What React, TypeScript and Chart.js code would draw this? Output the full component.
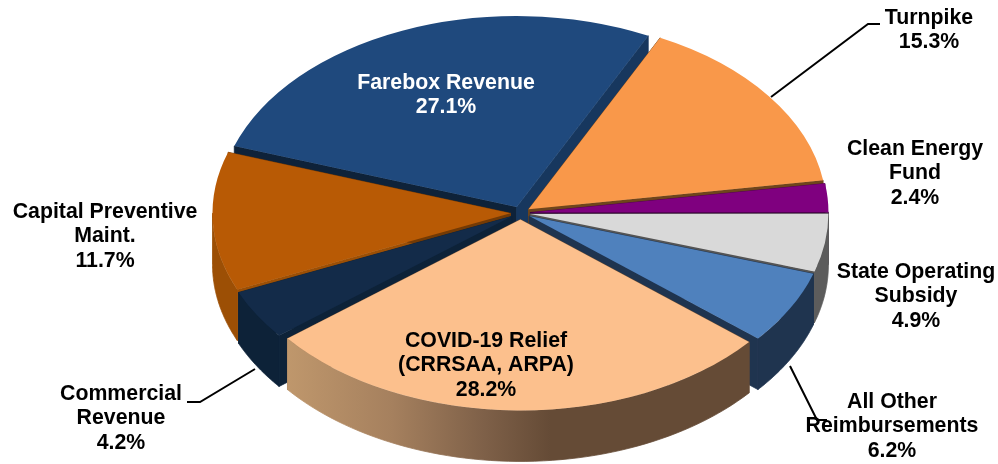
import React, { useEffect, useRef } from "react";
import { Chart, registerables } from "chart.js";

Chart.register(...registerables);

const categories = [
  "Turnpike",
  "Clean Energy Fund",
  "State Operating Subsidy",
  "All Other Reimbursements",
  "COVID-19 Relief (CRRSAA, ARPA)",
  "Commercial Revenue",
  "Capital Preventive Maint.",
  "Farebox Revenue",
];
const shares = [15.3, 2.4, 4.9, 6.2, 28.2, 4.2, 11.7, 27.1];

const topColors = ["#F9984A", "#7F007F", "#D9D9D9", "#4F81BD", "#FCC08D", "#132B49", "#B85A05", "#1F497D"];
const wallColors = ["#7A4A1E", "#4C004C", "#5C5C5C", "#1F344F", "#654B36", "#0D2238", "#9C4F05", "#17375E"];
const startFaceColors = ["#7A4A1E", "#4C004C", "#5C5C5C", "#1F344F", "#654B36", "#0D2238", "#9C4F05", "#0E2239"];
const endFaceColors = ["#6E451C", "#3A003A", "#555555", "#1F344F", "#654B36", "#0D2238", "#733A05", "#17375E"];

const labelLines = [
  ["Turnpike", "15.3%"],
  ["Clean Energy", "Fund", "2.4%"],
  ["State Operating", "Subsidy", "4.9%"],
  ["All Other", "Reimbursements", "6.2%"],
  ["COVID-19 Relief", "(CRRSAA, ARPA)", "28.2%"],
  ["Commercial", "Revenue", "4.2%"],
  ["Capital Preventive", "Maint.", "11.7%"],
  ["Farebox Revenue", "27.1%"],
];
const labelAnchors = [
  [929, 18],
  [915, 149],
  [916, 272],
  [892, 402],
  [486, 341],
  [121, 394],
  [105, 212],
  [446, 83],
];
const labelColors = ["#000", "#000", "#000", "#000", "#000", "#000", "#000", "#fff"];
const leaders = [
  [[771, 97], [868, 24], [880, 24]],
  [[255, 369], [200, 402], [187, 402]],
  [[790, 366], [817, 420], [827, 420]],
];

const SQUASH = 0.641;
const DEPTH = 51;
const EXPLODE = 10;
const LINE_HEIGHT = 24.5;
const FONT = 'bold 21.3px "Liberation Sans", Arial, sans-serif';

const explodeOf = (arc: any) => {
  const mid = (arc.startAngle + arc.endAngle) / 2;
  return [EXPLODE * Math.cos(mid), EXPLODE * SQUASH * Math.sin(mid)];
};

function drawWalls(chart: any) {
  const ctx = chart.ctx as CanvasRenderingContext2D;
  const arcs = chart.getDatasetMeta(0).data as any[];
  const order = arcs
    .map((arc, i) => ({ arc, i, y: Math.sin((arc.startAngle + arc.endAngle) / 2) }))
    .sort((a, b) => a.y - b.y);

  ctx.save();
  ctx.lineWidth = 0.8;
  ctx.lineJoin = "round";
  for (const { arc, i } of order) {
    const [dx, dy] = explodeOf(arc);
    const cx = arc.x + dx;
    const cy = arc.y + dy;
    const r = arc.outerRadius;
    const pt = (t: number) => [cx + r * Math.cos(t), cy + r * SQUASH * Math.sin(t)];

    const face = (t: number, color: string) => {
      const p = pt(t);
      ctx.fillStyle = color;
      ctx.strokeStyle = color;
      ctx.beginPath();
      ctx.moveTo(cx, cy);
      ctx.lineTo(p[0], p[1]);
      ctx.lineTo(p[0], p[1] + DEPTH);
      ctx.lineTo(cx, cy + DEPTH);
      ctx.closePath();
      ctx.fill();
      ctx.stroke();
    };
    face(arc.startAngle, startFaceColors[i]);
    face(arc.endAngle, endFaceColors[i]);

    let wallFill: string | CanvasGradient = wallColors[i];
    if (i === 4) {
      const left = pt(arc.endAngle)[0];
      const g = ctx.createLinearGradient(left, 0, cx + 30, 0);
      g.addColorStop(0, "#BF976C");
      g.addColorStop(0.4, "#A5805E");
      g.addColorStop(0.75, "#7E6048");
      g.addColorStop(1, wallColors[i]);
      wallFill = g;
    }

    for (let n = -1; n <= 1; n++) {
      const a = Math.max(arc.startAngle, n * 2 * Math.PI);
      const b = Math.min(arc.endAngle, n * 2 * Math.PI + Math.PI);
      if (b <= a) continue;
      ctx.fillStyle = wallFill;
      ctx.strokeStyle = wallFill;
      ctx.beginPath();
      const steps = 60;
      for (let s = 0; s <= steps; s++) {
        const p = pt(a + ((b - a) * s) / steps);
        if (s === 0) ctx.moveTo(p[0], p[1]);
        else ctx.lineTo(p[0], p[1]);
      }
      for (let s = steps; s >= 0; s--) {
        const p = pt(a + ((b - a) * s) / steps);
        ctx.lineTo(p[0], p[1] + DEPTH);
      }
      ctx.closePath();
      ctx.fill();
      ctx.stroke();
    }
  }
  ctx.restore();
}

const pie3d = {
  id: "pie3d",
  beforeDatasetDraw(chart: any) {
    const ctx = chart.ctx as CanvasRenderingContext2D;
    drawWalls(chart);
    for (const arc of chart.getDatasetMeta(0).data as any[]) {
      const [dx, dy] = explodeOf(arc);
      ctx.save();
      ctx.translate(arc.x + dx, arc.y + dy);
      ctx.scale(1, SQUASH);
      ctx.translate(-arc.x, -arc.y);
      arc.draw(ctx);
      ctx.restore();
    }
    return false;
  },
  afterDraw(chart: any) {
    const ctx = chart.ctx as CanvasRenderingContext2D;
    ctx.save();
    ctx.strokeStyle = "#000";
    ctx.lineWidth = 2;
    for (const line of leaders) {
      ctx.beginPath();
      line.forEach(([x, y], i) => (i ? ctx.lineTo(x, y) : ctx.moveTo(x, y)));
      ctx.stroke();
    }
    ctx.font = FONT;
    ctx.textAlign = "center";
    ctx.textBaseline = "middle";
    labelLines.forEach((lines, i) => {
      ctx.fillStyle = labelColors[i];
      lines.forEach((text, j) => {
        ctx.fillText(text, labelAnchors[i][0], labelAnchors[i][1] + j * LINE_HEIGHT);
      });
    });
    ctx.restore();
  },
};

export default function App() {
  const ref = useRef<HTMLCanvasElement>(null);
  useEffect(() => {
    const chart = new Chart(ref.current as HTMLCanvasElement, {
      type: "pie",
      data: {
        labels: categories,
        datasets: [{ data: shares, backgroundColor: topColors, borderWidth: 0, radius: 298 }],
      },
      options: {
        animation: false,
        responsive: false,
        rotation: 26.2,
        layout: { padding: { left: 43, right: 0, top: 0, bottom: 38 } },
        plugins: { legend: { display: false }, tooltip: { enabled: false } },
      },
      plugins: [pie3d],
    } as any);
    return () => chart.destroy();
  }, []);
  return (
    <div style={{ position: "absolute", left: 0, top: 0, width: 998, height: 464, background: "#fff" }}>
      <canvas ref={ref} width={998} height={464} style={{ display: "block" }} />
    </div>
  );
}
